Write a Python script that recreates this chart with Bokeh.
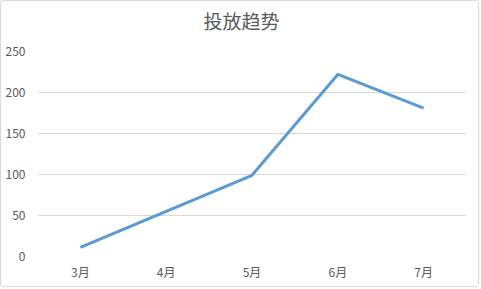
from bokeh.plotting import figure
from bokeh.models import Range1d, FixedTicker
from bokeh.embed import file_html
from bokeh.resources import INLINE

months = ["3月", "4月", "5月", "6月", "7月"]
values = [11, 55, 99, 222, 181]
y_ticks = [0, 50, 100, 150, 200, 250]
title_text = "投放趋势"

p = figure(width=479, height=287, x_range=months, y_range=Range1d(0, 250),
           output_backend="svg", toolbar_location=None, title=title_text,
           min_border_left=36, min_border_right=14, min_border_top=50, min_border_bottom=32)
p.styles = {"border": "1px solid #d9d9d9", "border-radius": "3px"}
p.x_range.range_padding = 0
p.outline_line_color = None
p.background_fill_color = "white"
p.border_fill_color = "white"

p.title.align = "left"
p.title.text_font_size = "19px"
p.title.text_font_style = "normal"
p.title.text_color = "#595959"
p.title.text_font = "Noto Sans CJK SC"
p.title.offset = 166
p.title.standoff = 0
p.title.padding = dict(left=0, right=0, top=2, bottom=18)

p.line(months, values, line_color="#5B9BD5", line_width=3, line_join="round")

p.xgrid.grid_line_color = None
p.ygrid.grid_line_color = "#d9d9d9"
p.ygrid.grid_line_width = 1
p.yaxis.ticker = FixedTicker(ticks=y_ticks)

for ax in (p.xaxis[0], p.yaxis[0]):
    ax.axis_line_color = None
    ax.major_tick_line_color = None
    ax.minor_tick_line_color = None
    ax.major_label_text_color = "#595959"
    ax.major_label_text_font_size = "12px"
    ax.major_label_text_font = "Noto Sans CJK SC"
p.xaxis.major_label_standoff = 0
p.yaxis.major_label_standoff = 6

open("out.html", "w").write(file_html(p, INLINE))
